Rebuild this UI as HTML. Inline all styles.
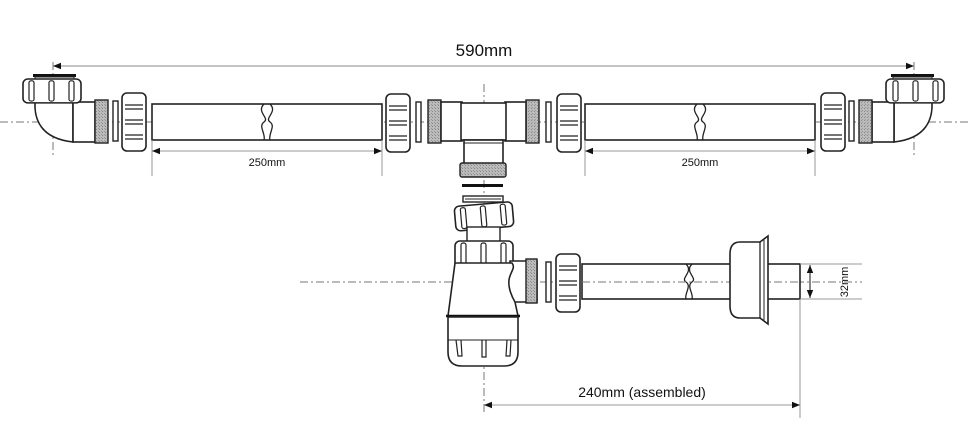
<!DOCTYPE html>
<html><head><meta charset="utf-8"><style>
html,body{margin:0;padding:0;background:#fff;}
svg{display:block;}
text{font-family:"Liberation Sans",Arial,sans-serif;fill:#111;}
</style></head><body>
<svg width="969" height="425" viewBox="0 0 969 425" xmlns="http://www.w3.org/2000/svg">
<defs>
<pattern id="th" width="3" height="3" patternUnits="userSpaceOnUse"><rect width="3" height="3" fill="#bbb"/><rect width="1" height="1" fill="#888"/><rect x="2" y="2" width="1" height="1" fill="#999"/></pattern>
<marker id="ar" viewBox="0 0 10 10" refX="10" refY="5" markerWidth="8" markerHeight="8" orient="auto-start-reverse"><path d="M0,1 L10,5 L0,9 Z" fill="#111"/></marker>
<g id="nutv">
 <!-- vertical nut (tall), origin top-left, w 24 h 58 -->
 <rect x="0" y="0" width="24" height="58" rx="5" fill="#fff" stroke="#222" stroke-width="1.6"/>
 <line x1="3" y1="12" x2="21" y2="12" stroke="#222" stroke-width="1.3"/>
 <line x1="3" y1="16" x2="21" y2="16" stroke="#222" stroke-width="1.3"/>
 <line x1="3" y1="27" x2="21" y2="27" stroke="#222" stroke-width="1.3"/>
 <line x1="3" y1="31" x2="21" y2="31" stroke="#222" stroke-width="1.3"/>
 <line x1="3" y1="42" x2="21" y2="42" stroke="#222" stroke-width="1.3"/>
 <line x1="3" y1="46" x2="21" y2="46" stroke="#222" stroke-width="1.3"/>
</g>
<g id="nuth">
 <!-- horizontal nut, w 58 h 26 -->
 <rect x="0" y="0" width="58" height="26" rx="5" fill="#fff" stroke="#222" stroke-width="1.6"/>
 <rect x="6" y="2" width="5" height="22" rx="2" fill="none" stroke="#222" stroke-width="1.2"/>
 <rect x="26" y="2" width="5" height="22" rx="2" fill="none" stroke="#222" stroke-width="1.2"/>
 <rect x="46" y="2" width="5" height="22" rx="2" fill="none" stroke="#222" stroke-width="1.2"/>
</g>
</defs>

<!-- centerlines -->
<g stroke="#777" stroke-width="1" stroke-dasharray="8,3,2,3" fill="none">
<line x1="0" y1="122" x2="969" y2="122"/>
<line x1="484" y1="84" x2="484" y2="412"/>
<line x1="300" y1="282" x2="862" y2="282"/>
<line x1="53" y1="62" x2="53" y2="156"/>
<line x1="914" y1="62" x2="914" y2="156"/>
</g>

<!-- 590mm -->
<line x1="53" y1="66" x2="914" y2="66" stroke="#888" stroke-width="1" marker-start="url(#ar)" marker-end="url(#ar)"/>
<text x="484" y="56" font-size="17" text-anchor="middle">590mm</text>

<!-- left half (mirrored for right) -->
<g id="half">
 <!-- elbow -->
 <path d="M35,102 L35,108 Q37,138 73,142 L73,102 Z" fill="#fff" stroke="#222" stroke-width="1.6"/>
 <rect x="73" y="102" width="22" height="40" fill="#fff" stroke="#222" stroke-width="1.6"/>
 <rect x="95" y="100" width="13" height="43" fill="url(#th)" stroke="#222" stroke-width="1.4"/>
 <rect x="33" y="74" width="43" height="3" fill="#111"/>
 <rect x="35" y="77" width="39" height="3" fill="#fff" stroke="#222" stroke-width="1"/>
 <g transform="translate(23,79) scale(1,0.92)"><use href="#nuth"/></g>
 <!-- washer -->
 <rect x="113" y="101" width="5" height="40" fill="#fff" stroke="#222" stroke-width="1.4"/>
 <use href="#nutv" x="122" y="93"/>
 <!-- pipe -->
 <rect x="152" y="104" width="230" height="36" fill="#fff" stroke="#222" stroke-width="1.6"/>
 <path d="M264,104 C256,112 270,118 264,122 C258,126 266,134 264,140 M270,104 C278,112 264,118 270,122 C276,126 268,134 270,140" fill="#fff" stroke="#222" stroke-width="1.3"/>
 <!-- 250 dim -->
 <line x1="152" y1="140" x2="152" y2="176" stroke="#999" stroke-width="1"/>
 <line x1="382" y1="140" x2="382" y2="176" stroke="#999" stroke-width="1"/>
 <line x1="152" y1="151" x2="382" y2="151" stroke="#999" stroke-width="1" marker-start="url(#ar)" marker-end="url(#ar)"/>
 <text x="267" y="166" font-size="11" text-anchor="middle">250mm</text>
 <!-- tee nut & washer -->
 <use href="#nutv" x="386" y="94"/>
 <rect x="416" y="102" width="5" height="40" fill="#fff" stroke="#222" stroke-width="1.4"/>
 <rect x="428" y="100" width="13" height="43" fill="url(#th)" stroke="#222" stroke-width="1.4"/>
 <rect x="441" y="102" width="21" height="39" fill="#fff" stroke="#222" stroke-width="1.6"/>
</g>
<g transform="translate(967,0) scale(-1,1)">
 <use href="#half"/>
</g>
<!-- overwrite mirrored text -->
<rect x="670" y="156" width="60" height="14" fill="#fff"/>
<text x="700" y="166" font-size="11" text-anchor="middle">250mm</text>

<!-- tee center -->
<rect x="461" y="103" width="45" height="37" fill="#fff" stroke="#222" stroke-width="1.6"/>
<rect x="464" y="140" width="39" height="24" fill="#fff" stroke="#222" stroke-width="1.6"/>
<line x1="464" y1="143" x2="503" y2="143" stroke="#222" stroke-width="1"/>
<rect x="460" y="163" width="46" height="14" rx="2" fill="url(#th)" stroke="#222" stroke-width="1.4"/>
<rect x="462" y="184" width="41" height="3" fill="#111"/>
<rect x="463" y="196" width="40" height="6" fill="#fff" stroke="#222" stroke-width="1.4"/>
<line x1="465" y1="199" x2="501" y2="199" stroke="#222" stroke-width="1"/>
<g transform="rotate(-5 484 216)"><g transform="translate(455,204) scale(1,0.95)"><use href="#nuth"/></g></g>
<rect x="467" y="227" width="33" height="16" fill="#fff" stroke="#222" stroke-width="1.4"/>
<use href="#nuth" x="455" y="241" transform="translate(0,0)"/>

<!-- trap body -->
<path d="M510,261 L537,261 L537,302 L514,302 C510,296 507,287 508,280 C509,272 514,268 510,263 Z" fill="#fff" stroke="#222" stroke-width="1.6"/>
<rect x="526" y="259" width="11" height="44" fill="url(#th)" stroke="#222" stroke-width="1.4"/>
<path d="M455,263 L512,263 C516,268 510,272 509,280 C508,288 512,297 515,302 L518,316 L448,316 Z" fill="#fff" stroke="#222" stroke-width="1.6"/>
<line x1="446" y1="316" x2="520" y2="316" stroke="#111" stroke-width="2.6"/>
<path d="M448,317 L518,317 L518,352 Q518,366 504,366 L462,366 Q448,366 448,352 Z" fill="#fff" stroke="#222" stroke-width="1.6"/>
<g fill="none" stroke="#222" stroke-width="1.2">
<path d="M456,340 L458,356 L462,356 L461,340"/>
<path d="M482,340 L482,357 L486,357 L486,340"/>
<path d="M507,340 L506,356 L510,356 L511,340"/>
</g>
<line x1="448" y1="340" x2="518" y2="340" stroke="#222" stroke-width="1"/>
<rect x="546" y="262" width="5" height="40" fill="#fff" stroke="#222" stroke-width="1.4"/>
<use href="#nutv" x="556" y="254"/>

<!-- bottom outlet pipe -->
<rect x="582" y="264" width="218" height="35" fill="#fff" stroke="#222" stroke-width="1.6"/>
<path d="M686,264 C694,272 680,278 686,282 C692,286 684,294 686,299 M692,264 C684,272 698,278 692,282 C686,286 694,294 692,299" fill="#fff" stroke="#222" stroke-width="1.3"/>
<line x1="582" y1="282" x2="800" y2="282" stroke="#777" stroke-width="1" stroke-dasharray="8,3,2,3"/>
<!-- wall flange -->
<path d="M740,242 L760,242 L768,236 L768,324 L760,318 L740,318 Q730,318 730,306 L730,254 Q730,242 740,242 Z" fill="#fff" stroke="#222" stroke-width="1.6"/>
<line x1="760" y1="242" x2="760" y2="318" stroke="#222" stroke-width="1.3"/>
<line x1="764" y1="239" x2="764" y2="321" stroke="#222" stroke-width="1"/>

<!-- 32mm dim -->
<line x1="800" y1="264" x2="862" y2="264" stroke="#999" stroke-width="1"/>
<line x1="800" y1="299" x2="862" y2="299" stroke="#999" stroke-width="1"/>
<line x1="810" y1="265" x2="810" y2="298" stroke="#111" stroke-width="1" marker-start="url(#ar)" marker-end="url(#ar)"/>
<text x="844" y="282" font-size="11" text-anchor="middle" transform="rotate(-90 844 282)" dy="4">32mm</text>

<!-- 240 dim -->
<line x1="800" y1="299" x2="800" y2="418" stroke="#999" stroke-width="1"/>
<line x1="484" y1="405" x2="800" y2="405" stroke="#999" stroke-width="1" marker-start="url(#ar)" marker-end="url(#ar)"/>
<text x="642" y="397" font-size="14" text-anchor="middle">240mm (assembled)</text>
</svg>
</body></html>
